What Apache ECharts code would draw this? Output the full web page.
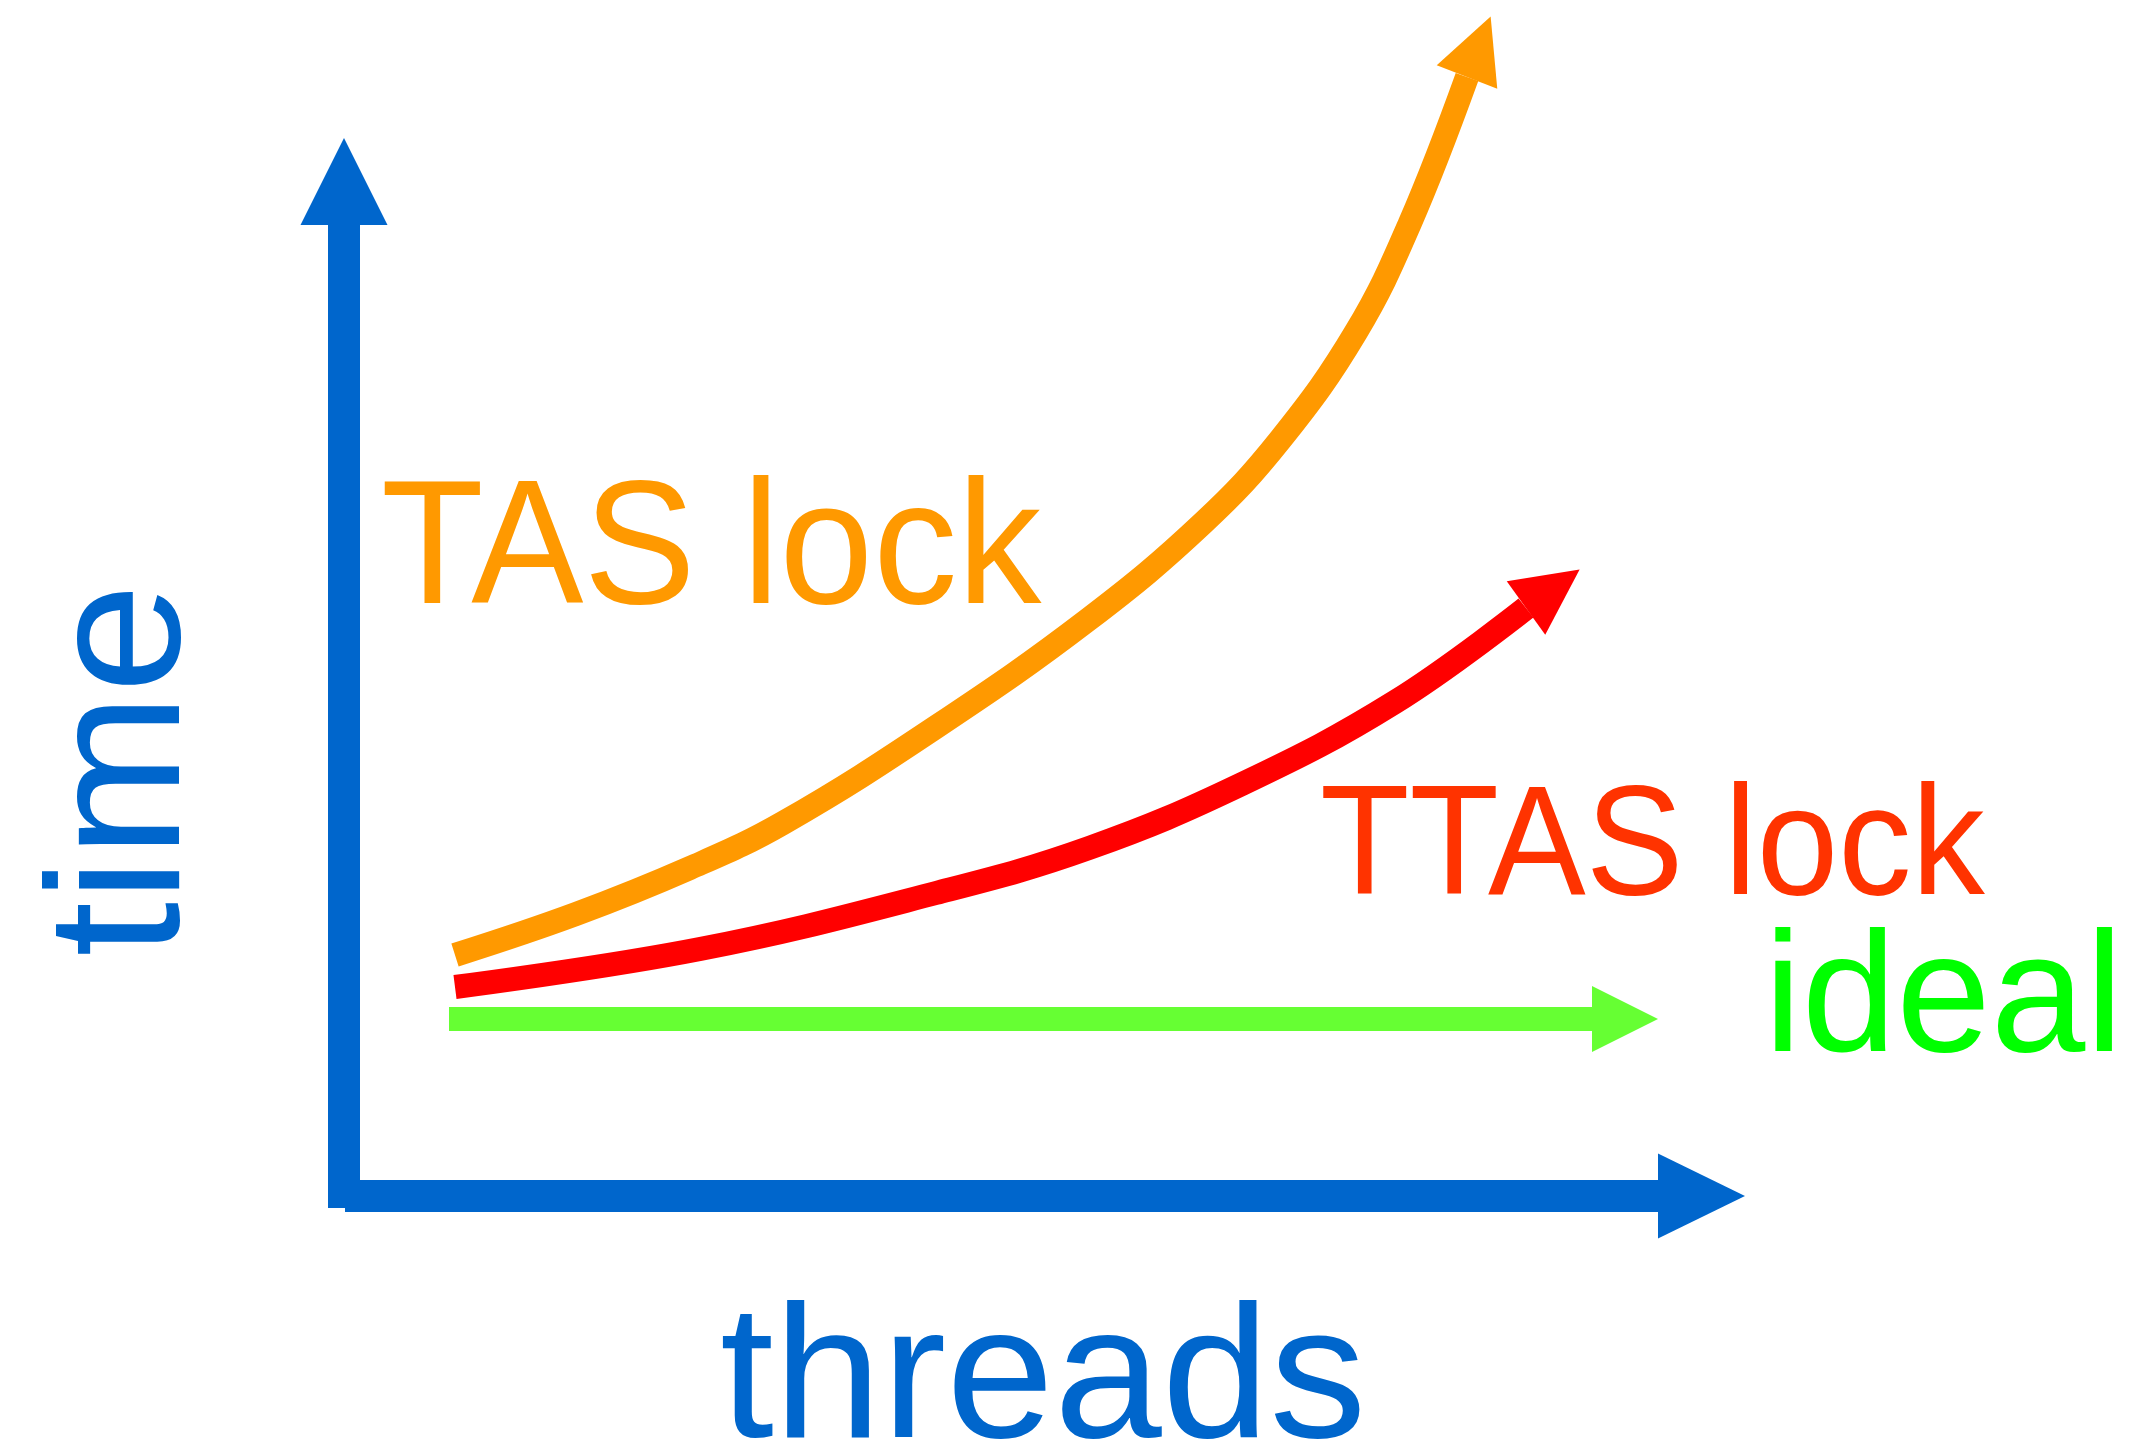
<!DOCTYPE html>
<html>
<head>
<meta charset="utf-8">
<script src="https://cdn.jsdelivr.net/npm/echarts@6/dist/echarts.min.js"></script>
<style>
  html, body { margin: 0; padding: 0; background: #fff; }
  #chart { width: 2135px; height: 1449px; }
</style>
</head>
<body>
<div id="chart"></div>
<script>
// diagram units: origin at the corner of the two axes, 1 unit = 1px
const timeAxisX = [0, 0];
const timeAxisY = [-12, 971];
const threadAxisX = [1, 1314];
const threadAxisY = [0, 0];

const idealX = [105, 1248];
const idealY = [177, 177];

const tasX = [111, 232, 346, 439, 592, 745, 859, 936, 1012, 1066, 1123];
const tasY = [241, 282, 328, 373, 469, 577, 673, 756, 864, 973, 1119];

const ttasX = [111, 356, 592, 745, 898, 1051, 1182];
const ttasY = [209, 247, 303, 348, 412, 494, 588];

const BLUE = '#0066CC';
const FONT = '"Liberation Sans", Arial, Helvetica, sans-serif';

var chartDom = document.getElementById('chart');
var myChart = echarts.init(chartDom);

const zip = (xs, ys) => xs.map((x, i) => [x, ys[i]]);

// arrowhead sits on the end of a path, pointing along its last segment
const arrowHead = (xs, ys, len, width, color) => {
  const n = xs.length;
  const dx = xs[n - 1] - xs[n - 2], dy = ys[n - 1] - ys[n - 2];
  const d = Math.sqrt(dx * dx + dy * dy);
  const ang = Math.atan2(dy, dx) * 180 / Math.PI;
  return {
    value: [xs[n - 1] + dx / d * len / 2, ys[n - 1] + dy / d * len / 2],
    symbolSize: [width, len],
    symbolRotate: ang - 90,
    itemStyle: { color: color, opacity: 1 }
  };
};

const path = (name, xs, ys, color, width, smooth) => {
  return {
    name: name, type: 'line', data: zip(xs, ys), smooth: smooth,
    showSymbol: false, silent: true, z: 2,
    lineStyle: { color: color, width: width, cap: 'butt', join: 'round' }
  };
};

const label = (text, x, y, size, color, sx) => {
  return {
    type: 'text', x: x, y: y, scaleX: sx, silent: true,
    style: { text: text, fill: color, font: size + 'px ' + FONT, verticalAlign: 'middle' }
  };
};

var option = {
  animation: false,
  grid: { left: 0, right: 0, top: 0, bottom: 0 },
  xAxis: { type: 'value', min: -344, max: 1791, show: false },
  yAxis: { type: 'value', min: -253, max: 1196, show: false },
  series: [
    path('time', timeAxisX, timeAxisY, BLUE, 32, false),
    path('threads', threadAxisX, threadAxisY, BLUE, 32, false),
    path('ideal', idealX, idealY, '#66FF33', 24, false),
    path('TTAS lock', ttasX, ttasY, '#FF0000', 24, 0.4),
    path('TAS lock', tasX, tasY, '#FF9900', 24, 0.4),
    {
      name: 'heads', type: 'scatter', symbol: 'triangle', silent: true, z: 3,
      data: [
        arrowHead(timeAxisX, timeAxisY, 87, 87, BLUE),
        arrowHead(threadAxisX, threadAxisY, 87, 85, BLUE),
        arrowHead(idealX, idealY, 66, 66, '#66FF33'),
        arrowHead(ttasX, ttasY, 66, 66, '#FF0000'),
        arrowHead(tasX, tasY, 65, 65, '#FF9900')
      ]
    }
  ],
  graphic: [
    label('TAS lock', 381, 554, 177, '#FF9900', 0.95),
    label('TTAS lock', 1320, 851, 155, '#FF3300', 0.945),
    label('ideal', 1764, 1004, 170, '#00FF00', 1),
    label('threads', 720, 1385, 190, BLUE, 1.02),
    { type: 'text', x: 127, y: 770, rotation: Math.PI / 2, scaleX: 1.04, silent: true,
      style: { text: 'time', fill: BLUE, font: '190px ' + FONT, align: 'center', verticalAlign: 'middle' } }
  ]
};

myChart.setOption(option);
</script>
</body>
</html>
